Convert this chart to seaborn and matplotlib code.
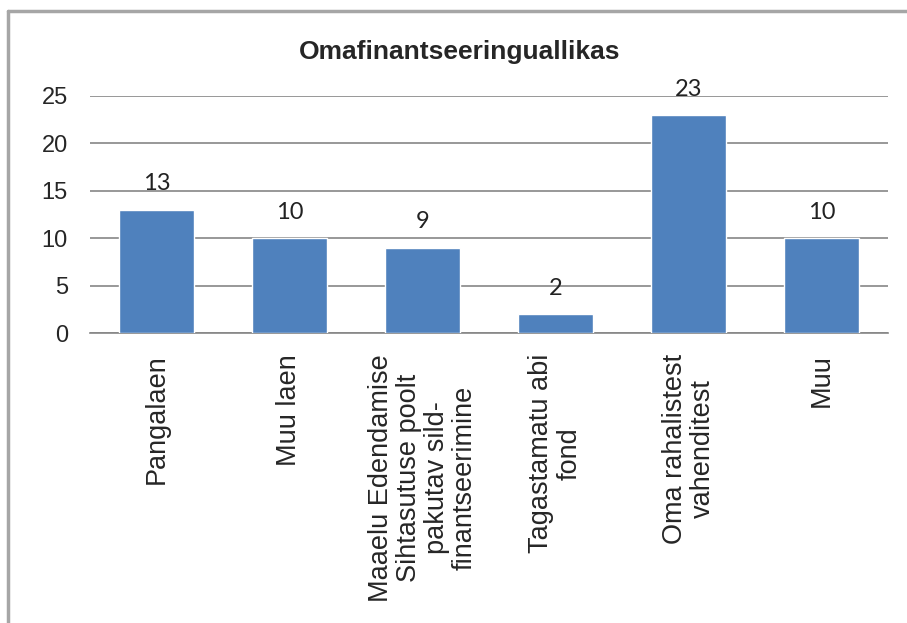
import pandas as pd
import matplotlib.pyplot as plt
import seaborn as sns
from matplotlib.lines import Line2D

# Andmed
kategooriad = [
    "Pangalaen",
    "Muu laen",
    "Maaelu Edendamise\nSihtasutuse poolt\npakutav sild-\nfinantseerimine",
    "Tagastamatu abi\nfond",
    "Oma rahalistest\nvahenditest",
    "Muu",
]
vaartused = [13, 10, 9, 2, 23, 10]
y_ticks = [0, 5, 10, 15, 20, 25]

df = pd.DataFrame({"Kategooria": kategooriad, "Arv": vaartused})

sns.set_style("white")
plt.rcParams["font.family"] = ["Liberation Sans", "DejaVu Sans"]

fig = plt.figure(figsize=(9.07, 6.23), dpi=100)
ax = fig.add_axes([90 / 907, 1 - 333 / 623, (888 - 90) / 907, (333 - 96) / 623])

sns.barplot(x="Kategooria", y="Arv", data=df, color="#4F81BD", saturation=1,
            width=0.56, ax=ax, zorder=3)

# Andmesildid
for p, v in zip(ax.patches, vaartused):
    ax.annotate(str(v), (p.get_x() + p.get_width() / 2, p.get_height()),
                xytext=(0, 11), textcoords="offset points", ha="center", va="bottom",
                fontsize=17, family=["Lato", "DejaVu Sans"], color="#222222",
                annotation_clip=False)

ax.set_ylim(0, 25)
ax.set_yticks(y_ticks)
ax.set_xlim(-0.5, len(kategooriad) - 0.5)
ax.grid(axis="y", color="#868686", linewidth=1.2, zorder=0)
ax.set_axisbelow(True)
for s in ["left", "right", "top"]:
    ax.spines[s].set_visible(False)
ax.spines["bottom"].set_color("#868686")
ax.spines["bottom"].set_linewidth(1.2)

ax.tick_params(axis="y", length=0, pad=16, labelsize=17)
ax.tick_params(axis="x", length=0, pad=15, labelsize=19.5)
plt.setp(ax.get_xticklabels(), rotation=90, ha="center", va="top", multialignment="center",
         linespacing=1.1)
ax.set_xlabel("")
ax.set_ylabel("")

fig.text(460 / 907, 1 - 52 / 623, "Omafinantseeringuallikas", ha="center", va="center",
         fontsize=19, fontweight="bold")

# Raam
fig.add_artist(Line2D([8 / 907, 8 / 907], [0, 1 - 11 / 623], color="#a6a6a6", linewidth=2.5))
fig.add_artist(Line2D([8 / 907, 1], [1 - 11 / 623, 1 - 11 / 623], color="#a6a6a6", linewidth=2.5))

fig.savefig("out.png", dpi=100)
